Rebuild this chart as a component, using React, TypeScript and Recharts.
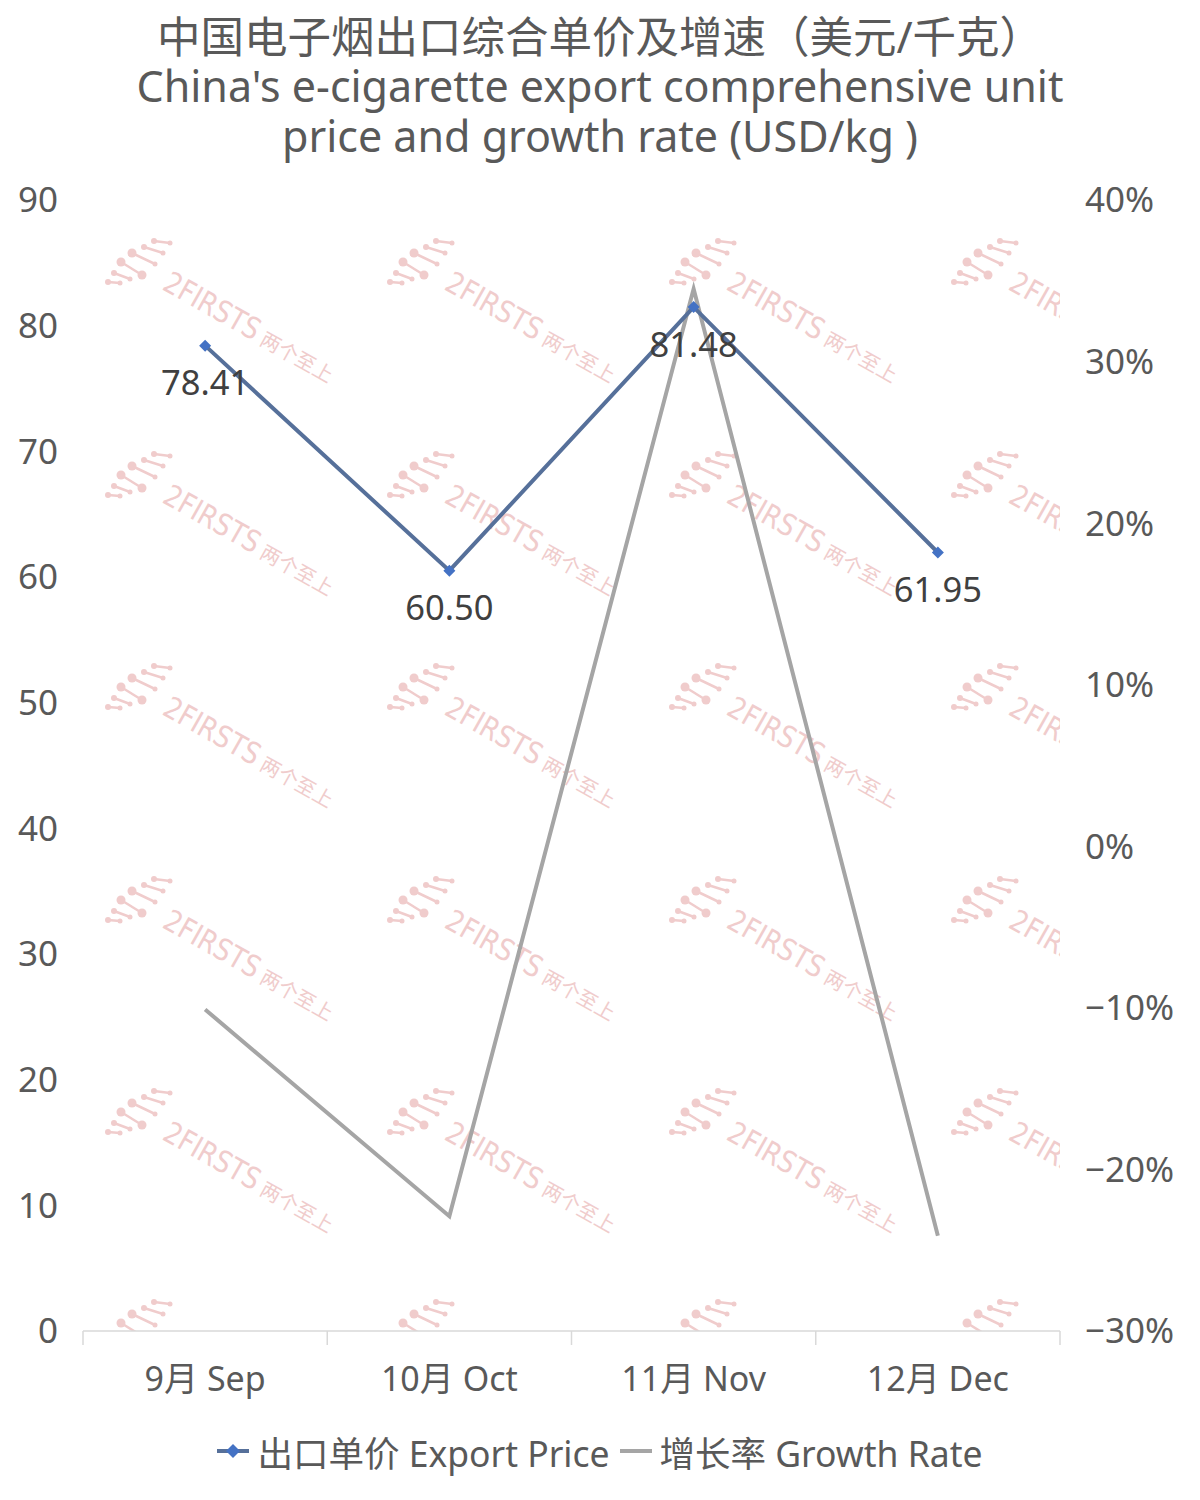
import React from "react";
import {
  ComposedChart,
  Line,
  XAxis,
  YAxis,
  Legend,
  LabelList,
} from "recharts";

const months = ["9月 Sep", "10月 Oct", "11月 Nov", "12月 Dec"];
const exportPrice = [78.41, 60.5, 81.48, 61.95];
const growthRate = [-10.1, -22.9, 34.5, -24.1];
const priceTicks = [0, 10, 20, 30, 40, 50, 60, 70, 80, 90];
const rateTicks = [-30, -20, -10, 0, 10, 20, 30, 40];

const data = months.map((m, i) => ({
  month: m,
  price: exportPrice[i],
  rate: growthRate[i],
}));

const FONT = '"Noto Sans", "Noto Sans CJK SC", sans-serif';
const PRICE_LINE = "#56709a";
const PRICE_DOT = "#4472c4";
const RATE_LINE = "#a5a5a5";
const AXIS = "#d9d9d9";
const TEXT = "#595959";
const MARK = "#f0cccc";

const W = 1200;
const H = 1500;
const PLOT_LEFT = 83;
const PLOT_RIGHT = 1060;
const PLOT_TOP = 200;
const PLOT_BOTTOM = 1331;
const HALF_BAND = (PLOT_RIGHT - PLOT_LEFT) / months.length / 2;

function Diamond(props: any) {
  const { cx, cy } = props;
  if (cx == null || cy == null) return null;
  const r = 6;
  return (
    <path
      d={`M${cx},${cy - r}L${cx + r},${cy}L${cx},${cy + r}L${cx - r},${cy}Z`}
      fill={PRICE_DOT}
    />
  );
}

function fmtRate(v: number) {
  return v < 0 ? `−${Math.abs(v)}%` : `${v}%`;
}

function LegendBox() {
  return (
    <div
      style={{
        display: "flex",
        justifyContent: "center",
        alignItems: "center",
        fontFamily: FONT,
        fontSize: 35.5,
        color: TEXT,
        height: 60,
      }}
    >
      <svg width={32} height={20} style={{ marginRight: 8 }}>
        <line x1={0} y1={10} x2={32} y2={10} stroke={PRICE_LINE} strokeWidth={4} />
        <path d="M16,3L23,10L16,17L9,10Z" fill={PRICE_DOT} />
      </svg>
      <span>出口单价 Export Price</span>
      <svg width={32} height={20} style={{ marginLeft: 10, marginRight: 8 }}>
        <line x1={0} y1={10} x2={32} y2={10} stroke={RATE_LINE} strokeWidth={4} />
      </svg>
      <span>增长率 Growth Rate</span>
    </div>
  );
}

const LOGO = [
  [0, 42, 12, 43],
  [6, 33, 22, 39],
  [13, 22, 34, 35],
  [24, 13, 47, 24],
  [36, 7, 55, 13],
  [46, 1, 62, 3],
];

function Stamp({ x, y }: { x: number; y: number }) {
  return (
    <g transform={`translate(${x},${y})`}>
      {LOGO.map(([x1, y1, x2, y2], i) => (
        <g key={i}>
          <line x1={x1} y1={y1} x2={x2} y2={y2} stroke={MARK} strokeWidth={2.5} />
          <circle cx={x1} cy={y1} r={i === 2 || i === 3 ? 4.5 : 3} fill={MARK} />
          <circle cx={x2} cy={y2} r={i === 2 ? 4.5 : 2.5} fill={MARK} />
        </g>
      ))}
      <g transform="translate(58,40) rotate(29.5)">
        <text
          x={0}
          y={10}
          fontSize={30}
          fill={MARK}
          fontFamily='"DejaVu Sans Condensed", "DejaVu Sans", sans-serif'
          fontWeight={300}
          textLength={106}
          lengthAdjust="spacingAndGlyphs"
        >
          2FIRSTS
        </text>
        <text
          x={112}
          y={10}
          fontSize={20}
          fill={MARK}
          fontFamily='"Noto Sans CJK SC", sans-serif'
        >
          两个至上
        </text>
      </g>
    </g>
  );
}

function Watermark() {
  const cols = [108, 390, 672, 954];
  const rows = [240, 453, 665, 878, 1090, 1301];
  return (
    <svg
      width={PLOT_RIGHT - PLOT_LEFT}
      height={PLOT_BOTTOM - PLOT_TOP}
      viewBox={`${PLOT_LEFT} ${PLOT_TOP} ${PLOT_RIGHT - PLOT_LEFT} ${PLOT_BOTTOM - PLOT_TOP}`}
      style={{ position: "absolute", left: PLOT_LEFT, top: PLOT_TOP }}
    >
      {rows.map((ry) => cols.map((cx) => <Stamp key={`${cx}-${ry}`} x={cx} y={ry} />))}
    </svg>
  );
}

function CategoryTicks() {
  const n = months.length;
  const step = (PLOT_RIGHT - PLOT_LEFT) / n;
  return (
    <svg
      width={W}
      height={H}
      style={{ position: "absolute", left: 0, top: 0, pointerEvents: "none" }}
    >
      {Array.from({ length: n + 1 }, (_, i) => (
        <line
          key={i}
          x1={PLOT_LEFT + i * step}
          x2={PLOT_LEFT + i * step}
          y1={PLOT_BOTTOM}
          y2={PLOT_BOTTOM + 14}
          stroke={AXIS}
          strokeWidth={1.5}
        />
      ))}
    </svg>
  );
}

export default function App() {
  return (
    <div
      style={{
        position: "absolute",
        left: 0,
        top: 0,
        width: W,
        height: H,
        background: "#fff",
        fontFamily: FONT,
      }}
    >
      <div
        style={{
          position: "absolute",
          left: 0,
          top: 11,
          width: W,
          textAlign: "center",
          fontSize: 43,
          lineHeight: "50px",
          color: TEXT,
        }}
      >
        <div style={{ fontSize: 43.5 }}>中国电子烟出口综合单价及增速（美元/千克）</div>
        <div>China's e-cigarette export comprehensive unit</div>
        <div>price and growth rate (USD/kg )</div>
      </div>
      <Watermark />
      <CategoryTicks />
      <div style={{ position: "absolute", left: 0, top: 0 }}>
        <ComposedChart
          width={W}
          height={H}
          data={data}
          margin={{ top: PLOT_TOP, right: 0, left: 0, bottom: 19 }}
        >
          <XAxis
            dataKey="month"
            height={90}
            padding={{ left: HALF_BAND, right: HALF_BAND }}
            tickLine={false}
            axisLine={{ stroke: AXIS, strokeWidth: 1.5 }}
            tick={{ fontSize: 34, fill: TEXT, fontFamily: FONT }}
            tickMargin={30}
          />
          <YAxis
            yAxisId="left"
            width={PLOT_LEFT}
            domain={[0, 90]}
            ticks={priceTicks}
            axisLine={false}
            tickLine={false}
            tickMargin={19}
            tick={{ fontSize: 35, fill: TEXT, fontFamily: FONT }}
          />
          <YAxis
            yAxisId="right"
            orientation="right"
            width={W - PLOT_RIGHT}
            domain={[-30, 40]}
            ticks={rateTicks}
            axisLine={false}
            tickLine={false}
            tickMargin={19}
            tickFormatter={fmtRate}
            tick={{ fontSize: 35, fill: TEXT, fontFamily: FONT }}
          />
          <Legend verticalAlign="bottom" content={() => <LegendBox />} />
          <Line
            yAxisId="right"
            dataKey="rate"
            stroke={RATE_LINE}
            strokeWidth={4}
            dot={false}
            isAnimationActive={false}
          />
          <Line
            yAxisId="left"
            dataKey="price"
            stroke={PRICE_LINE}
            strokeWidth={4}
            dot={<Diamond />}
            isAnimationActive={false}
          >
            <LabelList
              dataKey="price"
              position="bottom"
              offset={25}
              formatter={(v: any) => Number(v).toFixed(2)}
              style={{ fontSize: 34.5, fill: "#404040", fontFamily: FONT }}
            />
          </Line>
        </ComposedChart>
      </div>
    </div>
  );
}
